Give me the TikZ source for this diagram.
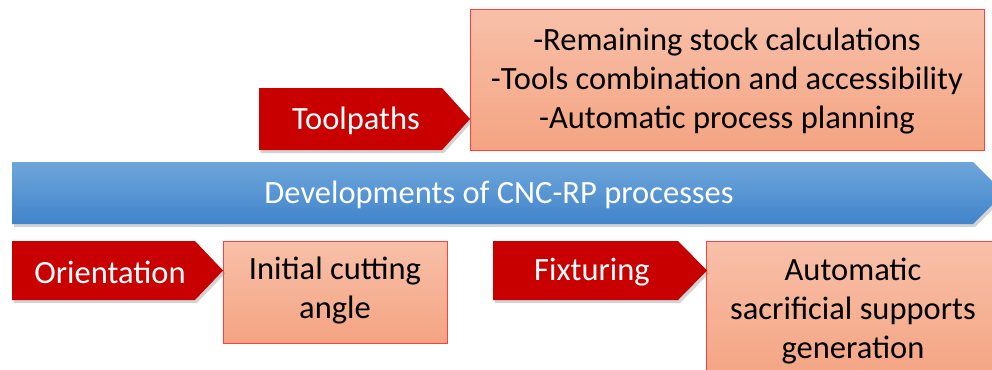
\documentclass[tikz,border=0pt]{standalone}
\usepackage{fontspec}
\setmainfont{Carlito}
\usetikzlibrary{shadows}
\definecolor{tagred}{HTML}{C90000}
\definecolor{boxtop}{HTML}{F8C0A9}
\definecolor{boxbot}{HTML}{F4A482}
\definecolor{boxline}{HTML}{FF4040}
\definecolor{bartop}{HTML}{6EA6DA}
\definecolor{barbot}{HTML}{4184CB}
\tikzset{
  tag/.style={fill=tagred, draw=none, drop shadow={shadow xshift=2pt, shadow yshift=-3pt, opacity=0.35}},
  bar/.style={top color=bartop, bottom color=barbot, draw=none, drop shadow={shadow xshift=2pt, shadow yshift=-3pt, opacity=0.35}},
  infobox/.style={top color=boxtop, bottom color=boxbot, draw=boxline, line width=1pt},
  wlabel/.style={text=white, font=\fontsize{32.5}{39}\selectfont, inner sep=0pt},
  blabel/.style={text=black, font=\fontsize{32.5}{39}\selectfont, align=center, inner sep=0pt},
}
\begin{document}
\begin{tikzpicture}[x=1pt, y=-1pt]
  \useasboundingbox (0,0) rectangle (992,369);
  \clip (0,0) rectangle (992,369);

  % main timeline bar
  \path[bar] (12,162) -- (973,162) -- (1004,193) -- (973,224) -- (12,224) -- cycle;
  \node[wlabel] (dev) at (499,195) {Developments of CNC-RP processes};

  % upper branch
  \path[infobox] (470,9.5) rectangle (984,150);
  \node[blabel] (tooltasks) at (727,81) {-Remaining stock calculations\\-Tools combination and accessibility\\-Automatic process planning};
  \path[tag] (259,88) -- (442,88) -- (470,119) -- (442,150) -- (259,150) -- cycle;
  \node[wlabel] (toolpaths) at (356,121) {Toolpaths};

  % lower branch, left
  \path[infobox] (223,241) rectangle (447,343);
  \node[blabel] (cutangle) at (335,291) {Initial cutting\\angle};
  \path[tag] (12,241) -- (195,241) -- (223,270.5) -- (195,300) -- (12,300) -- cycle;
  \node[wlabel] (orient) at (110,272) {Orientation};

  % lower branch, right
  \path[infobox] (706,241) rectangle (1000,380);
  \node[blabel] (supports) at (853,311) {Automatic\\sacrificial supports\\generation};
  \path[tag] (493,241) -- (678,241) -- (707,270.5) -- (678,300) -- (493,300) -- cycle;
  \node[wlabel] (fixt) at (592,272) {Fixturing};
\end{tikzpicture}
\end{document}
